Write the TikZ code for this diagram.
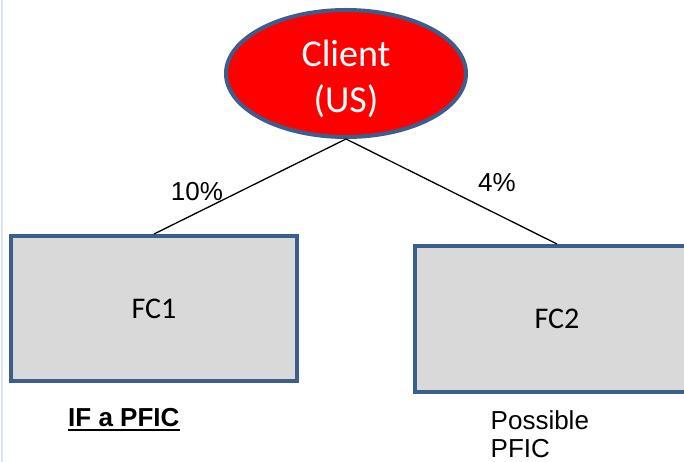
\documentclass[tikz,border=0pt]{standalone}
\usepackage{fontspec}
\setmainfont{Carlito}
\newfontfamily\calibri{Carlito}
\newfontfamily\arial{Liberation Sans}
\usetikzlibrary{shapes.geometric}

\definecolor{edgeblue}{RGB}{59,94,140}
\definecolor{boxgray}{RGB}{217,217,217}
\definecolor{marginblue}{RGB}{220,230,242}

\tikzset{
  entity/.style={ellipse, draw=edgeblue, line width=4pt, fill=red,
    minimum width=240pt, minimum height=127pt, inner sep=0pt},
  entitytext/.style={text=white, align=center, inner sep=0pt,
    font=\calibri\fontsize{38}{46}\selectfont},
  company/.style={rectangle, draw=edgeblue, line width=4pt, fill=boxgray,
    inner sep=0pt, font=\calibri\fontsize{30}{36}\selectfont},
  link/.style={draw=black, line width=1.3pt},
  share/.style={inner sep=0pt, font=\arial\fontsize{26}{30}\selectfont},
  note/.style={inner sep=0pt, font=\arial\fontsize{26}{28}\selectfont}
}

\begin{document}
\begin{tikzpicture}[x=1pt, y=-1pt]
  \useasboundingbox (0,0) rectangle (684,462);
  \clip (0,0) rectangle (684,462);
  \fill[white] (0,0) rectangle (684,462);
  \draw[marginblue, line width=1.5pt] (2,0) -- (2,462);

  % owner and the two foreign companies
  \node[entity] (client) at (346,73.5) {};
  \node[entitytext] (clientname) at (346,78.5) {Client\\(US)};
  \node[company, minimum width=286pt, minimum height=145pt] (fc1) at (154,308.5) {FC1};
  \node[company, minimum width=284pt, minimum height=146pt] (fc2) at (557,319) {FC2};

  % ownership links
  \draw[link] (client.south) -- (fc1.north);
  \draw[link] (client.south) -- (fc2.north);

  % ownership shares
  \node[share] (p1) at (197,192) {10\%};
  \node[share] (p2) at (497,183) {4\%};

  % status notes
  \node[note, anchor=base west, font=\arial\bfseries\fontsize{26}{28}\selectfont] (ifpfic) at (68,426) {IF a PFIC};
  \draw[line width=2pt] ([yshift=-4pt]ifpfic.base west) -- ([yshift=-4pt]ifpfic.base east);
  \node[note, anchor=base west, align=left] (maybe) at (490.5,457.5) {Possible\\PFIC};
\end{tikzpicture}
\end{document}
